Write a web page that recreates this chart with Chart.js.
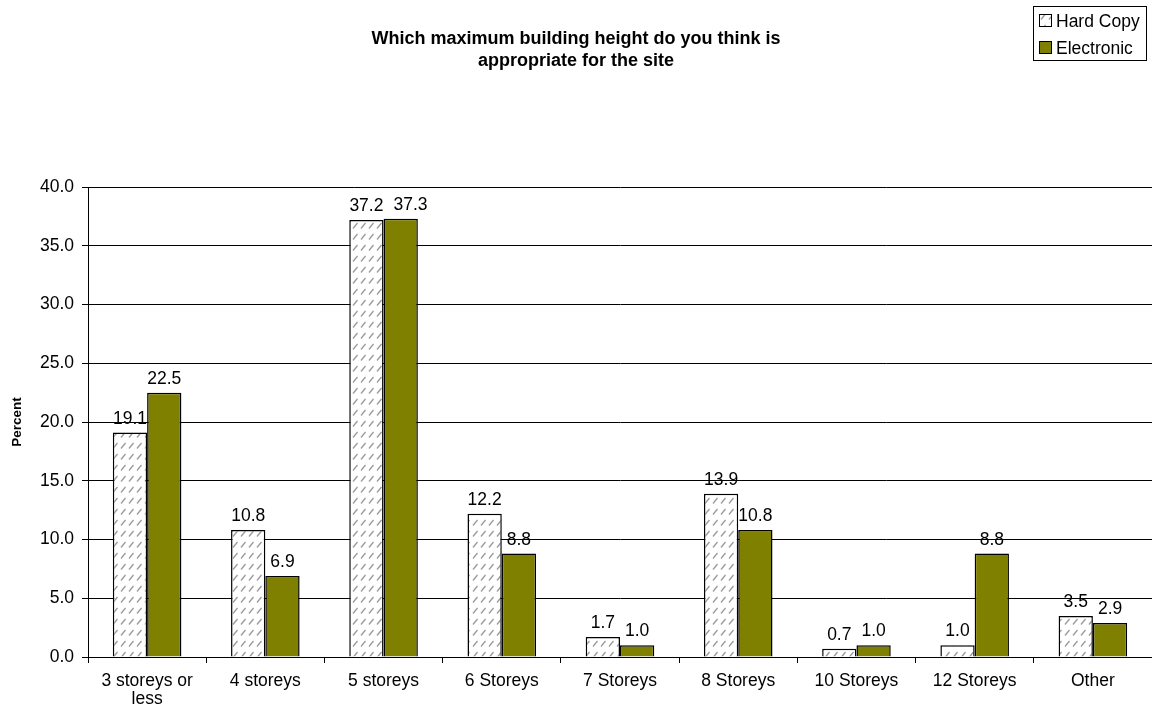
<!DOCTYPE html>
<html lang="en">
<head>
    <meta charset="UTF-8">
    <title>Maximum building height</title>
    <script src="https://cdn.jsdelivr.net/npm/chart.js"></script>
    <style>
        html, body { margin: 0; padding: 0; background: #fff; }
        #wrap { width: 1152px; height: 713px; position: relative; }
    </style>
</head>
<body>
    <div id="wrap">
        <canvas id="heightChart"></canvas>
    </div>

    <script>
        // Data
        const categories = [['3 storeys or', 'less'], '4 storeys', '5 storeys', '6 Storeys', '7 Storeys', '8 Storeys', '10 Storeys', '12 Storeys', 'Other'];
        const hardCopy = [19.1, 10.8, 37.2, 12.2, 1.7, 13.9, 0.7, 1.0, 3.5];
        const electronic = [22.5, 6.9, 37.3, 8.8, 1.0, 10.8, 1.0, 8.8, 2.9];
        const seriesNames = ['Hard Copy', 'Electronic'];
        const yTicks = [0, 5, 10, 15, 20, 25, 30, 35, 40];

        const FONT = 'Liberation Sans, Arial, sans-serif';

        // hatch pattern for the hard copy bars
        function makeHatch() {
            const c = document.createElement('canvas');
            c.width = 8; c.height = 11;
            const g = c.getContext('2d');
            g.fillStyle = '#fff';
            g.fillRect(0, 0, 8, 11);
            g.strokeStyle = '#9a9a9a';
            g.lineWidth = 1.3;
            g.beginPath();
            g.moveTo(1, 8.5);
            g.lineTo(5.5, 3);
            g.stroke();
            return g.createPattern(c, 'repeat');
        }

        const hatch = makeHatch();

        // value labels above bars + title + legend
        const extras = {
            id: 'extras',
            afterDatasetsDraw(chart) {
                const ctx = chart.ctx;
                ctx.save();
                ctx.fillStyle = '#000';
                ctx.font = '17.5px ' + FONT;
                ctx.textAlign = 'center';
                ctx.textBaseline = 'alphabetic';
                const hcMeta = chart.getDatasetMeta(0).data;
                const elMeta = chart.getDatasetMeta(1).data;
                hcMeta.forEach((bar, j) => {
                    const t1 = hardCopy[j].toFixed(1);
                    const t2 = electronic[j].toFixed(1);
                    const b2 = elMeta[j];
                    const y1 = bar.y - 9, y2 = b2.y - 9;
                    let x2 = b2.x;
                    // push the second label right if both sit on one line and touch
                    if (Math.abs(y1 - y2) < 16) {
                        const right1 = bar.x + ctx.measureText(t1).width / 2;
                        const left2 = x2 - ctx.measureText(t2).width / 2;
                        if (left2 - right1 < 10) x2 += 10 - (left2 - right1);
                    }
                    ctx.fillText(t1, bar.x, y1);
                    ctx.fillText(t2, x2, y2);
                });

                // title
                ctx.font = 'bold 18px ' + FONT;
                ctx.textBaseline = 'middle';
                ctx.fillText('Which maximum building height do you think is', 576, 39);
                ctx.fillText('appropriate for the site', 576, 61);

                // legend
                ctx.lineWidth = 1;
                ctx.strokeStyle = '#000';
                ctx.strokeRect(1033.5, 6.5, 113, 54);
                ctx.textAlign = 'left';
                ctx.font = '17.5px ' + FONT;
                chart.data.datasets.forEach((ds, i) => {
                    const y = 21 + i * 27;
                    ctx.fillStyle = ds.backgroundColor;
                    ctx.fillRect(1039.5, y - 6.5, 12, 12);
                    ctx.strokeRect(1039.5, y - 6.5, 12, 12);
                    ctx.fillStyle = '#000';
                    ctx.fillText(ds.label, 1056, y + 1);
                });
                ctx.restore();
            }
        };

        new Chart(document.getElementById('heightChart'), {
            type: 'bar',
            data: {
                labels: categories,
                datasets: [
                    {
                        label: seriesNames[0],
                        data: hardCopy,
                        backgroundColor: hatch,
                        borderColor: '#000',
                        borderWidth: 1.5
                    },
                    {
                        label: seriesNames[1],
                        data: electronic,
                        backgroundColor: '#808000',
                        borderColor: '#000',
                        borderWidth: 1.5
                    }
                ]
            },
            options: {
                responsive: true,
                maintainAspectRatio: false,
                animation: false,
                layout: { padding: { top: 187, right: 0, left: 0, bottom: 0 } },
                plugins: {
                    legend: { display: false },
                    tooltip: { enabled: false }
                },
                datasets: {
                    bar: { categoryPercentage: 0.58, barPercentage: 1.0 }
                },
                scales: {
                    x: {
                        afterFit(scale) { scale.height = 56; },
                        grid: {
                            offset: true,
                            drawOnChartArea: false,
                            drawTicks: true,
                            tickLength: 6,
                            color: '#000'
                        },
                        border: { color: '#000' },
                        ticks: {
                            color: '#000',
                            font: { family: FONT, size: 17.5, lineHeight: 1.05 },
                            maxRotation: 0,
                            autoSkip: false,
                            padding: 9
                        }
                    },
                    y: {
                        min: 0,
                        max: 40,
                        afterFit(scale) { scale.width = 88; },
                        afterBuildTicks(scale) {
                            scale.ticks = yTicks.map(v => ({ value: v }));
                        },
                        grid: {
                            color: '#000',
                            tickLength: 6
                        },
                        border: { color: '#000' },
                        title: {
                            display: true,
                            text: 'Percent',
                            color: '#000',
                            font: { family: FONT, size: 13.5, weight: 'bold' },
                            padding: { top: 9, bottom: 0 }
                        },
                        ticks: {
                            color: '#000',
                            font: { family: FONT, size: 17.5 },
                            padding: 8,
                            callback: v => Number(v).toFixed(1)
                        }
                    }
                }
            },
            plugins: [extras]
        });
    </script>
</body>
</html>
